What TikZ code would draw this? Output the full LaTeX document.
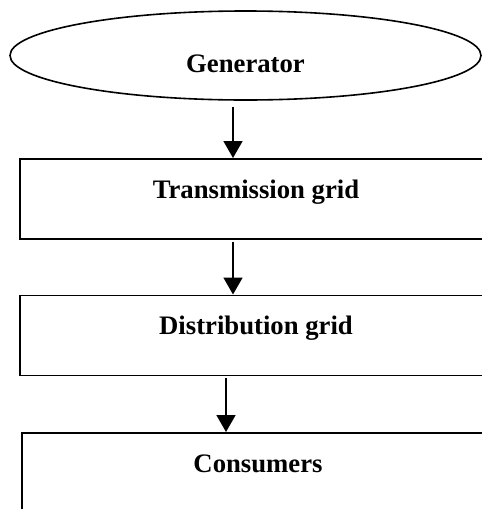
\documentclass[tikz,border=0pt]{standalone}
\usepackage{fontspec}
\setmainfont{Liberation Serif}
\usetikzlibrary{arrows.meta,shapes.geometric}

\tikzset{
  lbl/.style={font=\fontsize{26.7pt}{32pt}\selectfont\bfseries},
  genshape/.style={ellipse, draw, line width=1.6pt, inner sep=0pt,
    minimum width=471pt, minimum height=89pt, lbl,
    text height=33pt, text depth=0pt},
  gridbox/.style={rectangle, draw, line width=1.8pt, inner sep=0pt,
    minimum width=472pt, anchor=north, lbl,
    text height=39.5pt, text depth=40.5pt},
  flow/.style={line width=1.7pt, -{Triangle[width=19pt,length=17pt]}}
}

\begin{document}
\begin{tikzpicture}[x=1pt,y=-1pt]
  \useasboundingbox (0,0) rectangle (482,509);
  \fill[white] (0,0) rectangle (482,509);
  \clip (0,0) rectangle (482,509);

  % supply chain, top to bottom
  \node[genshape] (gen) at (245.5,55.5) {Generator};
  \node[gridbox] (trans) at (256,158) {Transmission grid};
  \node[gridbox] (dist)  at (256,294.5) {Distribution grid};
  \node[gridbox] (cons)  at (258,432) {Consumers};

  % arrow starts just below each shape
  \coordinate (s1) at (233,107);
  \coordinate (s2) at (233,242);
  \coordinate (s3) at (226,378);

  \draw[flow] (s1) -- (s1 |- trans.north);
  \draw[flow] (s2) -- (s2 |- dist.north);
  \draw[flow] (s3) -- (s3 |- cons.north);
\end{tikzpicture}
\end{document}
